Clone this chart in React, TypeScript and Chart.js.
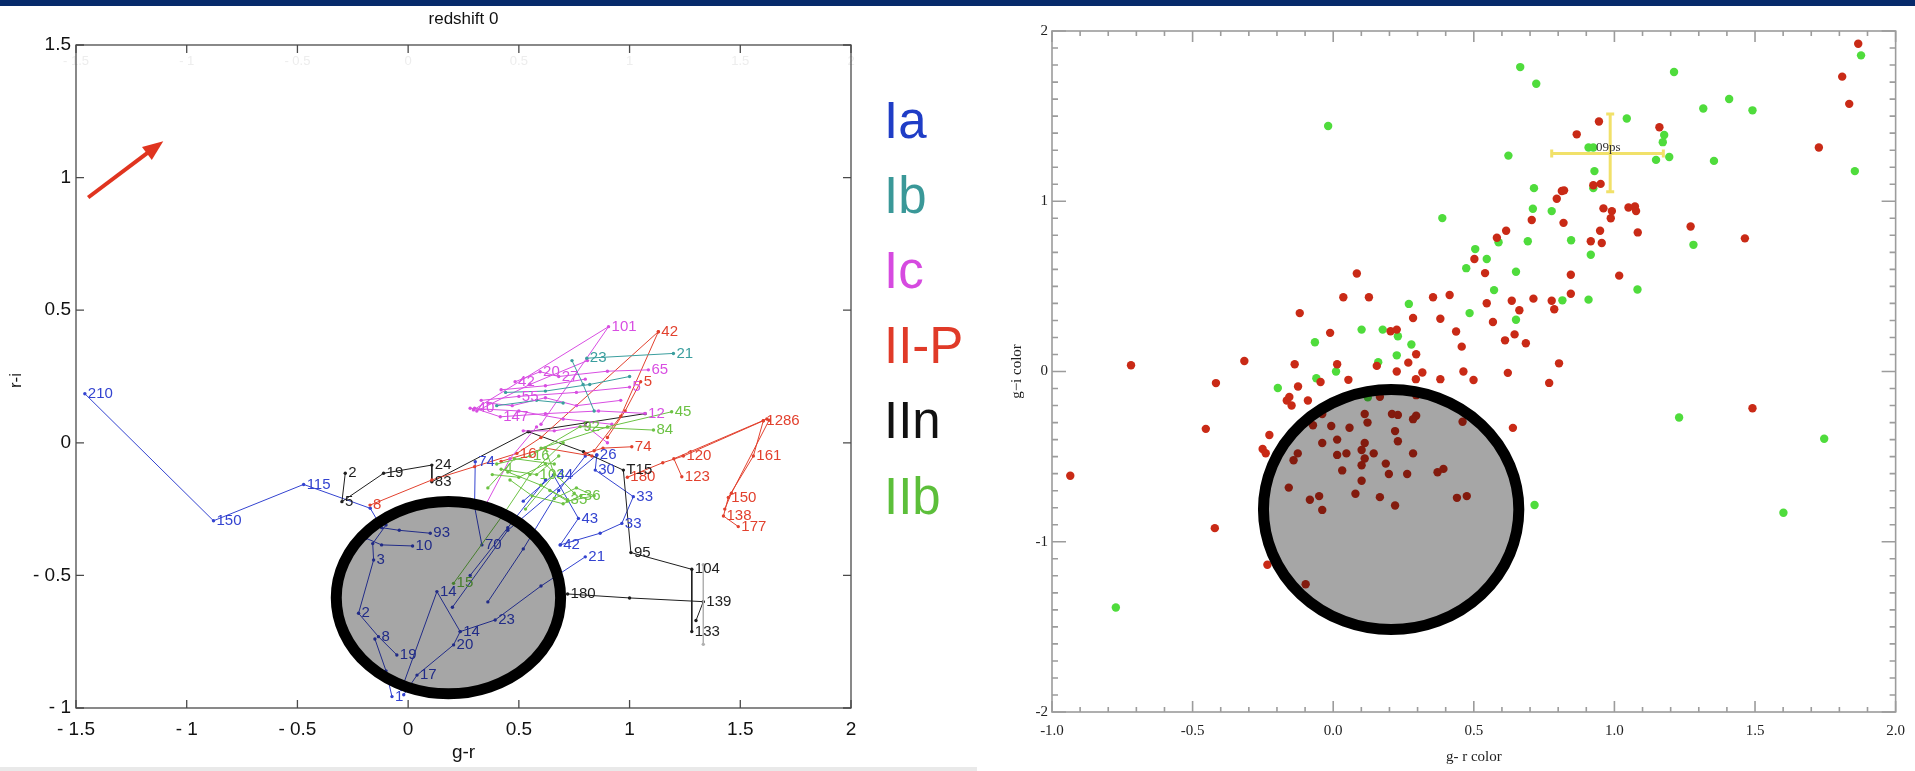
import React, { useEffect, useRef } from 'react';
import { Chart, registerables } from 'chart.js';

Chart.register(...registerables);

type P = [number, number, string];
type Q = [number, number];

const SANS = '"Liberation Sans", Arial, Helvetica, sans-serif';
const SERIF = '"Liberation Serif", "DejaVu Serif", "Times New Roman", serif';

// ---------------- Left chart (r-i vs g-r tracks) ----------------
const leftTitle = 'redshift 0';
const leftXTitle = 'g-r';
const leftYTitle = 'r-i';
const leftXTicks = [-1.5, -1, -0.5, 0, 0.5, 1, 1.5, 2];
const leftYTicks = [-1, -0.5, 0, 0.5, 1, 1.5];

const legendNames = ['Ia', 'Ib', 'Ic', 'II-P', 'IIn', 'IIb'];
const legendColors = ['#1f3dc6', '#3a9898', '#d64ae0', '#e03a28', '#111111', '#5cbf3a'];

// reddening arrow (start, end) in data units
const arrowStart: Q = [-1.445, 0.925];
const arrowEnd: Q = [-1.106, 1.1375];

// Ia tracks
const ia1: P[] = [[-1.46, 0.185, '210'], [-0.879, -0.294, '150'], [-0.472, -0.157, '115'], [-0.171, -0.247, ''], [-0.12, -0.32, ''], [-0.04, -0.33, ''], [0.1, -0.341, '93']];
const ia2: P[] = [[-0.19, -0.36, ''], [-0.12, -0.385, ''], [0.02, -0.389, '10']];
const ia3: P[] = [[-0.1, -0.31, ''], [-0.16, -0.38, ''], [-0.156, -0.442, '3'], [-0.224, -0.643, '2'], [-0.134, -0.731, '8'], [-0.051, -0.8, '19']];
const ia4: P[] = [[-0.15, -0.74, ''], [-0.1, -0.86, ''], [-0.073, -0.957, '1']];
const ia5: P[] = [[-0.02, -0.95, ''], [0.04, -0.876, '17'], [0.205, -0.762, '20'], [0.235, -0.712, '14'], [0.393, -0.668, '23'], [0.6, -0.54, ''], [0.8, -0.43, '21']];
const ia6: P[] = [[-0.03, -0.93, ''], [0.13, -0.561, '14'], [0.235, -0.712, '']];
const ia7: P[] = [[0.303, -0.071, '74'], [0.3, -0.24, ''], [0.333, -0.385, '70']];
const ia8: P[] = [[0.36, -0.6, ''], [0.52, -0.4, ''], [0.68, -0.18, ''], [0.8, -0.05, '']];
const ia9: P[] = [[0.687, -0.385, '42'], [0.769, -0.285, '43'], [0.656, -0.121, '44'], [0.52, -0.22, '']];
const ia10: P[] = [[0.852, -0.046, '26'], [0.845, -0.103, '30'], [1.017, -0.203, '33'], [0.965, -0.304, '33'], [0.867, -0.341, ''], [0.687, -0.385, '']];
const ia11: P[] = [[0.28, -0.5, ''], [0.45, -0.32, ''], [0.62, -0.14, '']];
const ia12: P[] = [[0.2, -0.62, ''], [0.45, -0.33, ''], [0.852, -0.046, '']];
const iaTracks = [ia1, ia2, ia3, ia4, ia5, ia6, ia7, ia8, ia9, ia10, ia11, ia12];

// Ib tracks
const ib1: P[] = [[0.807, 0.319, '23'], [1.198, 0.337, '21']];
const ib2: P[] = [[0.44, 0.19, ''], [0.62, 0.195, ''], [0.82, 0.22, ''], [1.0, 0.25, '']];
const ib3: P[] = [[0.74, 0.31, ''], [0.79, 0.22, ''], [0.84, 0.12, '']];
const ib4: P[] = [[0.4, 0.14, ''], [0.58, 0.16, ''], [0.7, 0.15, '']];
const ibTracks = [ib1, ib2, ib3, ib4];

// Ic tracks
const ic1: P[] = [[0.295, 0.124, ''], [0.905, 0.438, '101'], [0.6, 0.07, '']];
const ic2: P[] = [[0.483, 0.23, '42'], [0.596, 0.268, '20'], [0.68, 0.25, '27'], [0.9, 0.27, ''], [1.085, 0.275, '65']];
const ic3: P[] = [[0.3, 0.13, '40'], [0.416, 0.098, '147'], [0.62, 0.11, ''], [0.86, 0.12, ''], [1.07, 0.111, '12']];
const ic4: P[] = [[0.33, 0.16, ''], [0.5, 0.175, '55'], [0.76, 0.19, ''], [1.0, 0.21, '5']];
const ic5: P[] = [[0.52, 0.045, ''], [0.66, 0.045, ''], [0.8, 0.065, ''], [0.9, 0.0, '']];
const ic6: P[] = [[0.36, 0.15, ''], [0.47, 0.14, ''], [0.62, 0.17, ''], [0.76, 0.14, ''], [0.96, 0.16, '']];
const ic7: P[] = [[0.34, -0.25, ''], [0.46, -0.06, ''], [0.58, 0.06, '']];
const ic8: P[] = [[0.31, 0.12, ''], [0.55, 0.22, ''], [0.81, 0.31, '']];
const ic9: P[] = [[0.28, 0.13, ''], [0.5, 0.12, ''], [0.7, 0.09, ''], [0.92, 0.07, '']];
const ic10: P[] = [[0.42, 0.2, ''], [0.62, 0.215, ''], [0.8, 0.24, '']];
const icTracks = [ic1, ic2, ic3, ic4, ic5, ic6, ic7, ic8, ic9, ic10];

// II-P tracks
const p1: P[] = [[-0.172, -0.235, '8'], [0.107, -0.14, ''], [0.3, -0.09, ''], [0.491, -0.04, '16'], [0.6, 0.02, ''], [1.13, 0.419, '42']];
const p2: P[] = [[1.13, 0.419, ''], [0.96, 0.1, ''], [0.84, -0.03, '']];
const p3: P[] = [[0.8, -0.04, ''], [0.88, -0.02, ''], [1.01, -0.015, '74']];
const p4: P[] = [[0.99, -0.13, '180'], [1.15, -0.075, ''], [1.243, -0.05, '120'], [1.604, 0.083, '1286']];
const p5: P[] = [[1.236, -0.128, '123'], [1.2, -0.06, ''], [1.62, 0.09, '']];
const p6: P[] = [[1.604, 0.083, ''], [1.559, -0.05, '161'], [1.446, -0.206, '150'], [1.424, -0.276, '138'], [1.491, -0.316, '177']];
const p7: P[] = [[1.63, 0.085, ''], [1.46, -0.19, ''], [1.43, -0.25, '']];
const p8: P[] = [[1.05, 0.23, '5'], [0.98, 0.12, ''], [0.9, 0.02, '']];
const p9: P[] = [[0.42, -0.07, ''], [0.62, -0.02, ''], [0.83, -0.05, '']];
const ipTracks = [p1, p2, p3, p4, p5, p6, p7, p8, p9];

// IIn tracks
const n1: P[] = [[-0.284, -0.115, '2'], [-0.299, -0.222, '5'], [-0.111, -0.115, '19'], [0.107, -0.084, '24'], [0.107, -0.147, '83'], [0.543, 0.042, ''], [0.792, -0.034, ''], [0.972, -0.103, 'T15'], [1.006, -0.414, '95'], [1.281, -0.477, '104'], [1.281, -0.712, '133']];
const n2: P[] = [[0.72, -0.57, '180'], [1.0, -0.585, ''], [1.333, -0.599, '139'], [1.3, -0.67, '']];
const n3: P[] = [[0.543, 0.042, ''], [0.8, 0.075, ''], [1.07, 0.11, '']];
const inTracks = [n1, n2, n3];
const n4: P[] = [[1.333, -0.46, ''], [1.333, -0.76, '']];

// IIb tracks
const b1: P[] = [[0.205, -0.53, '15'], [0.43, -0.27, ''], [0.55, -0.12, ''], [0.7, 0.0, '']];
const b2: P[] = [[0.4, -0.08, ''], [0.55, -0.05, '16'], [0.777, 0.061, '92'], [1.108, 0.048, '84']];
const b3: P[] = [[0.45, -0.11, ''], [0.6, -0.16, ''], [0.72, -0.215, '35']];
const b4: P[] = [[0.6, -0.02, ''], [0.9, 0.06, ''], [1.19, 0.117, '45']];
const b5: P[] = [[0.38, -0.12, ''], [0.5, -0.13, ''], [0.62, -0.08, ''], [0.75, -0.19, '']];
const b6: P[] = [[0.53, -0.25, ''], [0.66, -0.12, ''], [0.62, -0.02, '']];
const b7: P[] = [[0.42, -0.1, '4'], [0.58, -0.12, '103'], [0.68, -0.05, '']];
const b8: P[] = [[0.46, -0.14, ''], [0.56, -0.2, ''], [0.7, -0.23, ''], [0.78, -0.2, '36']];
const b9: P[] = [[0.36, -0.17, ''], [0.48, -0.06, ''], [0.66, -0.08, '']];
const b10: P[] = [[0.64, -0.18, ''], [0.72, -0.22, ''], [0.84, -0.2, ''], [0.76, -0.17, ''], [0.66, -0.21, '']];
const ibbTracks = [b1, b2, b3, b4, b5, b6, b7, b8, b9, b10];

// grey highlight ellipse (centre x, centre y, radius x, radius y) in data units
const leftEllipse = [0.182, -0.584, 0.5066, 0.3627];

// ---------------- Right chart (g-i vs g-r colour) ----------------
const rightXTitle = 'g- r color';
const rightYTitle = 'g\u2212i color';
const rightXTicks = [-1, -0.5, 0, 0.5, 1, 1.5, 2];
const rightYTicks = [-2, -1, 0, 1, 2];
const rightMinorStep = 0.1;

const redUpper: Q[] = [[1.867, 1.925], [2.027, 1.746], [1.81, 1.732], [1.835, 1.572], [1.727, 1.316], [0.945, 1.468], [0.866, 1.393], [1.16, 1.435], [0.925, 1.094], [0.951, 1.102], [0.813, 1.06], [0.795, 1.015], [0.821, 1.064], [0.961, 0.958], [0.991, 0.942], [0.987, 0.9], [1.05, 0.963], [1.073, 0.969], [1.077, 0.942], [1.083, 0.817], [0.949, 0.827], [0.916, 0.765], [0.955, 0.755], [0.819, 0.873], [0.706, 0.89], [0.615, 0.827], [0.582, 0.786], [0.502, 0.661], [0.54, 0.578], [1.271, 0.852], [1.464, 0.782], [0.845, 0.568], [1.017, 0.563], [0.845, 0.457], [0.712, 0.428], [0.635, 0.416], [0.662, 0.36], [0.546, 0.401], [0.568, 0.291], [0.777, 0.416], [0.786, 0.366], [0.414, 0.449], [0.437, 0.235], [0.457, 0.146], [0.611, 0.183], [0.645, 0.218], [0.685, 0.166], [0.463, 0.0], [0.499, -0.05], [0.621, -0.008], [0.803, 0.048], [0.768, -0.067], [1.491, -0.216], [0.639, -0.331], [0.46, -0.295], [0.44, -0.742], [0.475, -0.732]];
const redLeft: Q[] = [[0.084, 0.576], [0.036, 0.436], [0.127, 0.436], [0.355, 0.436], [-0.119, 0.343], [0.284, 0.314], [0.381, 0.31], [0.204, 0.236], [0.226, 0.246], [-0.011, 0.227], [0.295, 0.101], [-0.719, 0.037], [-0.316, 0.062], [-0.137, 0.043], [0.014, 0.043], [0.155, 0.033], [0.267, 0.052], [0.317, -0.006], [0.381, -0.045], [-0.417, -0.068], [-0.453, -0.337], [-0.125, -0.088], [-0.045, -0.062], [0.054, -0.049], [0.226, 0.0], [0.294, -0.045], [-0.165, -0.17], [-0.148, -0.2], [-0.156, -0.15], [-0.09, -0.17], [-0.251, -0.455], [-0.24, -0.48], [-0.227, -0.373]];
const redFar: Q[] = [[-0.935, -0.612], [-0.421, -0.92], [-1.054, -1.205], [-0.234, -1.135], [-0.098, -1.25], [-1.032, -1.571], [-1.076, -1.618]];
const redCore: Q[] = [[-0.039, -0.25], [-0.072, -0.316], [-0.007, -0.32], [0.058, -0.33], [0.014, -0.4], [-0.039, -0.42], [0.047, -0.481], [0.014, -0.49], [0.112, -0.25], [0.122, -0.3], [0.209, -0.25], [0.23, -0.255], [0.295, -0.26], [0.284, -0.28], [0.22, -0.35], [0.23, -0.41], [0.112, -0.42], [0.101, -0.461], [0.144, -0.481], [0.112, -0.511], [0.101, -0.551], [0.187, -0.541], [0.198, -0.602], [0.284, -0.481], [0.263, -0.602], [0.032, -0.581], [-0.126, -0.481], [-0.141, -0.521], [-0.158, -0.682], [-0.083, -0.753], [-0.05, -0.732], [-0.039, -0.813], [0.079, -0.718], [0.101, -0.642], [0.166, -0.738], [0.22, -0.787], [0.371, -0.592], [0.392, -0.572], [0.209, -0.109], [0.166, -0.149], [0.295, -0.139]];
const greenUpper: Q[] = [[0.665, 1.788], [0.722, 1.69], [1.212, 1.759], [1.877, 1.857], [1.316, 1.545], [1.408, 1.601], [1.491, 1.534], [1.044, 1.486], [0.623, 1.268], [0.908, 1.316], [0.925, 1.316], [1.177, 1.389], [1.172, 1.347], [1.148, 1.243], [1.195, 1.26], [1.354, 1.237], [1.855, 1.177], [0.929, 1.177], [0.925, 1.077], [0.714, 1.077], [0.71, 0.956], [0.777, 0.942], [0.692, 0.765], [0.846, 0.771], [0.916, 0.686], [1.281, 0.744], [0.588, 0.759], [0.505, 0.719], [0.546, 0.661], [0.473, 0.607], [0.65, 0.586], [0.572, 0.478], [1.082, 0.482], [0.908, 0.422], [0.815, 0.418], [0.485, 0.343], [0.65, 0.304], [-0.018, 1.442], [0.388, 0.901]];
const greenLower: Q[] = [[1.23, -0.27], [1.746, -0.395], [1.601, -0.83], [0.716, -0.784], [0.269, 0.397], [0.101, 0.246], [0.176, 0.246], [0.23, 0.207], [-0.065, 0.172], [0.278, 0.159], [0.226, 0.095], [-0.197, -0.097], [-0.06, -0.04], [0.01, 0.0], [0.123, -0.152], [0.16, 0.055], [-1.076, -0.672], [-0.773, -1.386]];

// error cross: centre, x-extent, y-extent, label
const crossCenter: Q = [0.985, 1.28];
const crossX: Q = [0.777, 1.174];
const crossY: Q = [1.056, 1.513];
const crossLabel = '09ps';

const rightEllipse = [0.206, -0.811, 0.454, 0.705];

// ---------------- helpers ----------------
const fmtLeft = (v: number) => (v < 0 ? '- ' + String(Math.abs(v)) : String(v));
const fmtRightX = (v: number) => v.toFixed(1);
const fmtRightY = (v: number) => String(Math.round(v));

function trackSets(tracks: P[][], color: string) {
  return tracks.map((t) => ({
    type: 'scatter' as const,
    data: t.map(([x, y, l]) => ({ x, y, l })),
    showLine: true,
    borderColor: color,
    backgroundColor: color,
    borderWidth: 1,
    pointRadius: 1.7,
    pointBorderWidth: 0,
    pointHoverRadius: 0,
    tension: 0,
  }));
}

function drawEllipse(chart: any, e: number[]) {
  const { ctx, scales } = chart;
  const cx = scales.x.getPixelForValue(e[0]);
  const cy = scales.y.getPixelForValue(e[1]);
  const rx = Math.abs(scales.x.getPixelForValue(e[0] + e[2]) - cx);
  const ry = Math.abs(scales.y.getPixelForValue(e[1] + e[3]) - cy);
  ctx.save();
  ctx.beginPath();
  ctx.ellipse(cx, cy, rx, ry, 0, 0, Math.PI * 2);
  ctx.fillStyle = 'rgba(0,0,0,0.35)';
  ctx.fill();
  ctx.lineWidth = 11;
  ctx.strokeStyle = '#000';
  ctx.stroke();
  ctx.restore();
}

const leftDecor = {
  id: 'leftDecor',
  beforeDatasetsDraw(chart: any) {
    const { ctx, chartArea: a, scales } = chart;
    ctx.save();
    ctx.fillStyle = '#ededed';
    ctx.font = `13px ${SANS}`;
    ctx.textAlign = 'center';
    ctx.textBaseline = 'middle';
    leftXTicks.forEach((v) => ctx.fillText(fmtLeft(v), scales.x.getPixelForValue(v), a.top + 16));
    ctx.strokeStyle = '#4a4a4a';
    ctx.lineWidth = 1.3;
    ctx.strokeRect(a.left, a.top, a.right - a.left, a.bottom - a.top);
    ctx.beginPath();
    leftXTicks.forEach((v) => {
      const px = scales.x.getPixelForValue(v);
      ctx.moveTo(px, a.bottom); ctx.lineTo(px, a.bottom - 8);
      ctx.moveTo(px, a.top); ctx.lineTo(px, a.top + 8);
    });
    leftYTicks.forEach((v) => {
      const py = scales.y.getPixelForValue(v);
      ctx.moveTo(a.left, py); ctx.lineTo(a.left + 8, py);
      ctx.moveTo(a.right, py); ctx.lineTo(a.right - 8, py);
    });
    ctx.stroke();
    ctx.restore();
  },
  afterDatasetsDraw(chart: any) {
    const { ctx, scales } = chart;
    ctx.save();
    ctx.font = `15px ${SANS}`;
    ctx.textAlign = 'left';
    ctx.textBaseline = 'middle';
    chart.data.datasets.forEach((ds: any, i: number) => {
      const meta = chart.getDatasetMeta(i);
      ds.data.forEach((d: any, j: number) => {
        if (!d.l) return;
        const el = meta.data[j];
        ctx.fillStyle = ds.borderColor;
        ctx.fillText(d.l, el.x + 3, el.y);
      });
    });
    const x1 = scales.x.getPixelForValue(arrowStart[0]);
    const y1 = scales.y.getPixelForValue(arrowStart[1]);
    const x2 = scales.x.getPixelForValue(arrowEnd[0]);
    const y2 = scales.y.getPixelForValue(arrowEnd[1]);
    const ang = Math.atan2(y2 - y1, x2 - x1);
    const head = 22;
    ctx.strokeStyle = '#e0341f';
    ctx.fillStyle = '#e0341f';
    ctx.lineWidth = 4;
    ctx.beginPath();
    ctx.moveTo(x1, y1);
    ctx.lineTo(x2 - Math.cos(ang) * head * 0.8, y2 - Math.sin(ang) * head * 0.8);
    ctx.stroke();
    ctx.beginPath();
    ctx.moveTo(x2, y2);
    ctx.lineTo(x2 - head * Math.cos(ang - 0.38), y2 - head * Math.sin(ang - 0.38));
    ctx.lineTo(x2 - head * Math.cos(ang + 0.38), y2 - head * Math.sin(ang + 0.38));
    ctx.closePath();
    ctx.fill();
    ctx.restore();
    drawEllipse(chart, leftEllipse);
  },
  afterDraw(chart: any) {
    const { ctx, chartArea: a } = chart;
    const cx = (a.left + a.right) / 2;
    ctx.save();
    ctx.fillStyle = '#111';
    ctx.textAlign = 'center';
    ctx.textBaseline = 'middle';
    ctx.font = `17px ${SANS}`;
    ctx.fillText(leftTitle, cx, 19);
    ctx.font = `19px ${SANS}`;
    ctx.fillText(leftXTitle, cx, 753);
    ctx.save();
    ctx.translate(16, (a.top + a.bottom) / 2 + 4);
    ctx.rotate(-Math.PI / 2);
    ctx.font = `17px ${SANS}`;
    ctx.fillText(leftYTitle, 0, 0);
    ctx.restore();
    ctx.textAlign = 'left';
    ctx.textBaseline = 'alphabetic';
    ctx.font = `51px ${SANS}`;
    legendNames.forEach((n, i) => {
      ctx.fillStyle = legendColors[i];
      ctx.fillText(n, 884, 119 + i * 75.2 + 18.6);
    });
    ctx.restore();
  },
};

const rightDecor = {
  id: 'rightDecor',
  beforeDatasetsDraw(chart: any) {
    const { ctx, chartArea: a, scales } = chart;
    ctx.save();
    ctx.strokeStyle = '#9c9c9c';
    ctx.lineWidth = 1.6;
    ctx.strokeRect(a.left, a.top, a.right - a.left, a.bottom - a.top);
    ctx.beginPath();
    const xMin = rightXTicks[0];
    const xMax = rightXTicks[rightXTicks.length - 1];
    const nx = Math.round((xMax - xMin) / rightMinorStep);
    for (let i = 0; i <= nx; i++) {
      const v = xMin + i * rightMinorStep;
      const L = i % 5 === 0 ? 11 : 5;
      const px = scales.x.getPixelForValue(v);
      ctx.moveTo(px, a.bottom); ctx.lineTo(px, a.bottom - L);
      ctx.moveTo(px, a.top); ctx.lineTo(px, a.top + L);
    }
    const yMin = rightYTicks[0];
    const yMax = rightYTicks[rightYTicks.length - 1];
    const ny = Math.round((yMax - yMin) / rightMinorStep);
    for (let i = 0; i <= ny; i++) {
      const v = yMin + i * rightMinorStep;
      const L = i % 10 === 0 ? 14 : 6;
      const py = scales.y.getPixelForValue(v);
      ctx.moveTo(a.left, py); ctx.lineTo(a.left + L, py);
      ctx.moveTo(a.right, py); ctx.lineTo(a.right - L, py);
    }
    ctx.stroke();
    ctx.restore();
  },
  afterDatasetsDraw(chart: any) {
    const { ctx, scales } = chart;
    const cx = scales.x.getPixelForValue(crossCenter[0]);
    const cy = scales.y.getPixelForValue(crossCenter[1]);
    const xl = scales.x.getPixelForValue(crossX[0]);
    const xr = scales.x.getPixelForValue(crossX[1]);
    const yt = scales.y.getPixelForValue(crossY[1]);
    const yb = scales.y.getPixelForValue(crossY[0]);
    ctx.save();
    ctx.strokeStyle = 'rgba(240,222,90,0.9)';
    ctx.lineWidth = 3;
    ctx.beginPath();
    ctx.moveTo(xl, cy); ctx.lineTo(xr, cy);
    ctx.moveTo(cx, yt); ctx.lineTo(cx, yb);
    ctx.moveTo(xl, cy - 4); ctx.lineTo(xl, cy + 4);
    ctx.moveTo(xr, cy - 4); ctx.lineTo(xr, cy + 4);
    ctx.moveTo(cx - 4, yt); ctx.lineTo(cx + 4, yt);
    ctx.moveTo(cx - 4, yb); ctx.lineTo(cx + 4, yb);
    ctx.stroke();
    ctx.fillStyle = '#333';
    ctx.font = `13px ${SERIF}`;
    ctx.textAlign = 'center';
    ctx.textBaseline = 'middle';
    ctx.fillText(crossLabel, cx - 2, cy - 6);
    ctx.restore();
    drawEllipse(chart, rightEllipse);
  },
  afterDraw(chart: any) {
    const { ctx, chartArea: a } = chart;
    ctx.save();
    ctx.fillStyle = '#222';
    ctx.textAlign = 'center';
    ctx.textBaseline = 'middle';
    ctx.font = `15px ${SERIF}`;
    ctx.fillText(rightXTitle, (a.left + a.right) / 2, 757);
    ctx.translate(17, (a.top + a.bottom) / 2);
    ctx.rotate(-Math.PI / 2);
    ctx.fillText(rightYTitle, 0, 0);
    ctx.restore();
  },
};

function LeftChart() {
  const ref = useRef<HTMLCanvasElement | null>(null);
  useEffect(() => {
    if (!ref.current) return;
    const datasets: any[] = [
      ...trackSets([n4], '#b0b0b0'),
      ...trackSets(ibbTracks, '#6cc244'),
      ...trackSets(ibTracks, '#3a9e9e'),
      ...trackSets(icTracks, '#d84ee2'),
      ...trackSets(ipTracks, '#e2412e'),
      ...trackSets(inTracks, '#1e1e1e'),
      ...trackSets(iaTracks, '#3343d0'),
    ];
    const chart = new Chart(ref.current, {
      type: 'scatter',
      data: { datasets },
      options: {
        animation: false,
        responsive: false,
        events: [],
        layout: { padding: { left: 0, top: 45, right: 149, bottom: 0 } },
        plugins: { legend: { display: false }, tooltip: { enabled: false }, title: { display: false } },
        scales: {
          x: {
            type: 'linear', min: -1.5, max: 2,
            afterBuildTicks: (s: any) => { s.ticks = leftXTicks.map((v) => ({ value: v })); },
            afterFit: (s: any) => { s.height = 63; },
            grid: { display: false, drawTicks: false },
            border: { display: false },
            ticks: { callback: (v: any) => fmtLeft(Number(v)), font: { family: SANS, size: 19 }, color: '#111', padding: 10, maxRotation: 0, autoSkip: false },
          },
          y: {
            type: 'linear', min: -1, max: 1.5,
            afterBuildTicks: (s: any) => { s.ticks = leftYTicks.map((v) => ({ value: v })); },
            afterFit: (s: any) => { s.width = 76; },
            grid: { display: false, drawTicks: false },
            border: { display: false },
            ticks: { callback: (v: any) => fmtLeft(Number(v)), font: { family: SANS, size: 19 }, color: '#111', padding: 5, autoSkip: false },
          },
        },
      } as any,
      plugins: [leftDecor],
    });
    return () => chart.destroy();
  }, []);
  return <canvas ref={ref} width={1000} height={771} style={{ position: 'absolute', left: 0, top: 0, width: 1000, height: 771 }} />;
}

function RightChart() {
  const ref = useRef<HTMLCanvasElement | null>(null);
  useEffect(() => {
    if (!ref.current) return;
    const dot = (pts: Q[], color: string, order: number) => ({
      data: pts.map(([x, y]) => ({ x, y })),
      backgroundColor: color,
      borderColor: color,
      pointRadius: 4.2,
      pointBorderWidth: 0,
      pointHoverRadius: 0,
      clip: false,
      order,
    });
    const chart = new Chart(ref.current, {
      type: 'scatter',
      data: {
        datasets: [
          dot(greenUpper, '#4fdc3c', 2),
          dot(greenLower, '#4fdc3c', 2),
          dot(redUpper, '#c92a16', 1),
          dot(redLeft, '#c92a16', 1),
          dot(redFar, '#c92a16', 1),
          dot(redCore, '#c92a16', 1),
        ],
      },
      options: {
        animation: false,
        responsive: false,
        events: [],
        layout: { padding: { left: 0, top: 31, right: 18, bottom: 0 } },
        plugins: { legend: { display: false }, tooltip: { enabled: false } },
        scales: {
          x: {
            type: 'linear', min: -1, max: 2,
            afterBuildTicks: (s: any) => { s.ticks = rightXTicks.map((v) => ({ value: v })); },
            afterFit: (s: any) => { s.height = 59; },
            grid: { display: false, drawTicks: false },
            border: { display: false },
            ticks: { callback: (v: any) => fmtRightX(Number(v)), font: { family: SERIF, size: 15 }, color: '#222', padding: 10, maxRotation: 0, autoSkip: false },
          },
          y: {
            type: 'linear', min: -2, max: 2,
            afterBuildTicks: (s: any) => { s.ticks = rightYTicks.map((v) => ({ value: v })); },
            afterFit: (s: any) => { s.width = 52; },
            grid: { display: false, drawTicks: false },
            border: { display: false },
            ticks: { callback: (v: any) => fmtRightY(Number(v)), font: { family: SERIF, size: 15 }, color: '#222', padding: 4, autoSkip: false },
          },
        },
      } as any,
      plugins: [rightDecor],
    });
    return () => chart.destroy();
  }, []);
  return <canvas ref={ref} width={915} height={771} style={{ position: 'absolute', left: 1000, top: 0, width: 915, height: 771 }} />;
}

export default function App() {
  return (
    <div style={{ position: 'absolute', left: 0, top: 0, width: 1915, height: 771, overflow: 'hidden', background: '#ffffff' }}>
      <LeftChart />
      <RightChart />
      <div style={{ position: 'absolute', left: 0, top: 0, width: 1915, height: 6, background: '#062a6b' }} />
      <div style={{ position: 'absolute', left: 0, top: 767, width: 977, height: 4, background: '#e9e9e9' }} />
    </div>
  );
}
